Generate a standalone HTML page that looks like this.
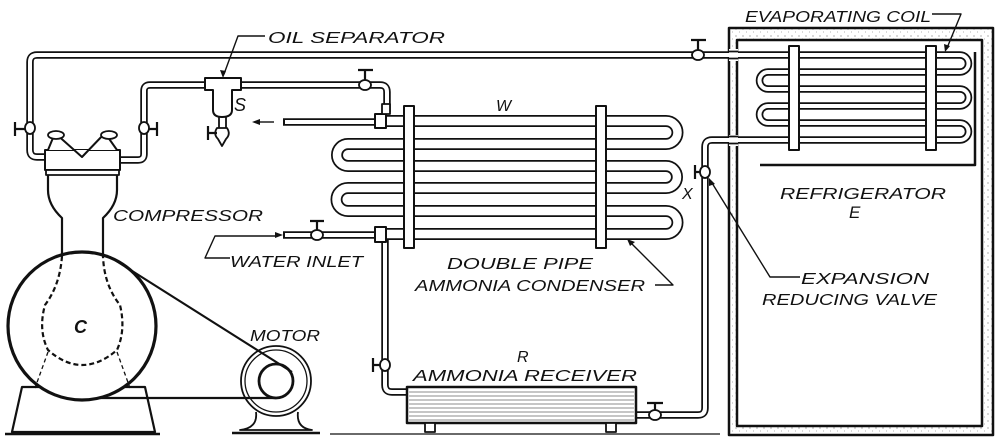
<!DOCTYPE html>
<html><head><style>
html,body{margin:0;padding:0;background:#fff;}
svg{display:block;}
text{font-family:"Liberation Sans",sans-serif;font-style:italic;fill:#111;}
</style></head><body>
<svg width="1000" height="441" viewBox="0 0 1000 441" xmlns="http://www.w3.org/2000/svg">
<defs>
<pattern id="dots" width="7" height="7" patternUnits="userSpaceOnUse">
<rect width="7" height="7" fill="#fff"/>
<circle cx="1" cy="1" r="0.6" fill="#777"/><circle cx="4.5" cy="4" r="0.5" fill="#999"/>
</pattern>
</defs>
<g fill="none" stroke-linejoin="round">

<rect x="729" y="28" width="264" height="407" fill="url(#dots)" stroke="#111" stroke-width="2.5"/>
<rect x="737" y="40" width="245" height="386" fill="#fff" stroke="#111" stroke-width="2.5"/>

<g stroke="#111" stroke-width="7.5">
<path d="M45 157 H37 Q30 157 30 150 V62 Q30 55 37 55 H960 A8.5 8.5 0 0 1 960 72 H768 A8.5 8.5 0 0 0 768 89 H960 A8.5 8.5 0 0 1 960 106 H768 A8.5 8.5 0 0 0 768 123 H960 A8.5 8.5 0 0 1 960 140 H712 Q705 140 705 147 V408 Q705 415 698 415 H637"/>
<path d="M120 160 H138 Q144 160 144 154 V91 Q144 85 150 85 H380 Q387 85 387 92 V112"/>
<path d="M385 240 V385 Q385 392 392 392 H407"/>
<path d="M283 122 H378"/>
<path d="M283 235 H378"/>
</g>
<g stroke="#fff" stroke-width="4">
<path d="M45 157 H37 Q30 157 30 150 V62 Q30 55 37 55 H960 A8.5 8.5 0 0 1 960 72 H768 A8.5 8.5 0 0 0 768 89 H960 A8.5 8.5 0 0 1 960 106 H768 A8.5 8.5 0 0 0 768 123 H960 A8.5 8.5 0 0 1 960 140 H712 Q705 140 705 147 V408 Q705 415 698 415 H637"/>
<path d="M120 160 H138 Q144 160 144 154 V91 Q144 85 150 85 H380 Q387 85 387 92 V112"/>
<path d="M385 240 V385 Q385 392 392 392 H407"/>
<path d="M285 122 H378"/>
<path d="M285 235 H378"/>
</g>

<path d="M378 121 H666 A11.5 11.5 0 0 1 666 144 H348 A11 11 0 0 0 348 166 H666 A11 11 0 0 1 666 188 H348 A11.5 11.5 0 0 0 348 211 H666 A11.5 11.5 0 0 1 666 234 H378" stroke="#111" stroke-width="12"/>
<path d="M378 121 H666 A11.5 11.5 0 0 1 666 144 H348 A11 11 0 0 0 348 166 H666 A11 11 0 0 1 666 188 H348 A11.5 11.5 0 0 0 348 211 H666 A11.5 11.5 0 0 1 666 234 H378" stroke="#fff" stroke-width="8.5"/>
<rect x="375" y="114" width="11" height="14" fill="#fff" stroke="#111" stroke-width="2"/>
<rect x="375" y="227" width="11" height="15" fill="#fff" stroke="#111" stroke-width="2"/>
<rect x="382" y="104" width="8" height="10" fill="#fff" stroke="#111" stroke-width="1.8"/>
<rect x="404" y="106" width="10" height="142" fill="#fff" stroke="#111" stroke-width="2"/>
<rect x="596" y="106" width="10" height="142" fill="#fff" stroke="#111" stroke-width="2"/>
<rect x="789" y="46" width="10" height="104" fill="#fff" stroke="#111" stroke-width="2"/>
<rect x="926" y="46" width="10" height="104" fill="#fff" stroke="#111" stroke-width="2"/>
<path d="M975 52 V165 H760" stroke="#111" stroke-width="2.5"/>
<rect x="729" y="49" width="9" height="12" fill="#fff"/>
<path d="M729 51.5 H738 M729 58.5 H738" stroke="#111" stroke-width="1.8"/>
<rect x="729" y="135" width="9" height="11" fill="#fff"/>
<path d="M729 136.5 H738 M729 143.5 H738" stroke="#111" stroke-width="1.8"/>

<path d="M22 387 H145 L155 432 H12 Z" fill="#fff" stroke="#111" stroke-width="2.2"/>
<path d="M5 434 H160" stroke="#111" stroke-width="2.5"/>
<path d="M48 175 V190 Q48 205 62 218 V254 M117 175 V190 Q117 205 103 218 V254" stroke="#111" stroke-width="2.2"/>
<circle cx="82" cy="326" r="74" fill="#fff" stroke="#111" stroke-width="3.2"/>
<path d="M62 256 Q60 285 45 305 Q38 330 48 350 Q82 380 117 350 Q126 330 120 305 Q104 285 103 256" stroke="#111" stroke-width="2.2" stroke-dasharray="5 3"/>
<path d="M48 352 L35 388 M117 352 L130 388" stroke="#111" stroke-width="1.3" stroke-dasharray="4 3"/>
<rect x="45" y="150" width="75" height="20" fill="#fff" stroke="#111" stroke-width="2"/>
<path d="M48 150 L55 133 L82 157 L105 133 L117 150" fill="#fff" stroke="#111" stroke-width="2"/>
<ellipse cx="56" cy="135" rx="8" ry="4" fill="#fff" stroke="#111" stroke-width="1.8"/>
<ellipse cx="109" cy="135" rx="8" ry="4" fill="#fff" stroke="#111" stroke-width="1.8"/>
<rect x="46" y="170" width="73" height="5" fill="#fff" stroke="#111" stroke-width="1.8"/>
<text x="74" y="333" font-size="18" font-weight="bold" stroke="none" fill="#111">C</text>

<path d="M256 412 Q258 428 240 430 H312 Q296 428 298 412" fill="#fff" stroke="#111" stroke-width="1.8"/>
<path d="M232 433 H320" stroke="#111" stroke-width="2.5"/>
<circle cx="276" cy="381" r="35" fill="#fff" stroke="#111" stroke-width="1.8"/>
<circle cx="276" cy="381" r="31" stroke="#111" stroke-width="1.3"/>
<circle cx="276" cy="381" r="17" stroke="#111" stroke-width="2.8"/>
<path d="M110 257 L292 372 M100 398 H276" stroke="#111" stroke-width="2.2"/>

<path d="M205 78 H241 V90 H232 V110 Q232 117 222 117 Q213 117 213 110 V90 H205 Z" fill="#fff" stroke="#111" stroke-width="2"/>
<path d="M219 117 V128 M226 117 V128" stroke="#111" stroke-width="1.8"/>
<path d="M217 128 Q213 134 218 139 L222 146 L226 139 Q231 134 227 128 Z" fill="#fff" stroke="#111" stroke-width="1.8"/>
<path d="M208 126 V140 M208 133 L217 133" stroke="#111" stroke-width="2.2"/>

<rect x="407" y="387" width="229" height="36" fill="#fff" stroke="#111" stroke-width="2.5"/>
<path d="M409 392 H634 M409 396 H634 M409 400 H634 M409 404 H634 M409 408 H634 M409 412 H634 M409 416 H634 M409 420 H634" stroke="#666" stroke-width="0.7"/>
<rect x="425" y="423" width="10" height="9" fill="#fff" stroke="#111" stroke-width="1.8"/>
<rect x="606" y="423" width="10" height="9" fill="#fff" stroke="#111" stroke-width="1.8"/>
<path d="M330 434 H720" stroke="#111" stroke-width="1.3"/>

<g fill="#fff" stroke="#111" stroke-width="1.8">
<ellipse cx="30" cy="128" rx="5" ry="6"/>
<ellipse cx="144" cy="128" rx="5" ry="6"/>
<ellipse cx="385" cy="365" rx="5" ry="6"/>
<ellipse cx="705" cy="172" rx="5" ry="6"/>
<ellipse cx="698" cy="55" rx="6" ry="5"/>
<ellipse cx="365" cy="85" rx="6" ry="5"/>
<ellipse cx="317" cy="235" rx="6" ry="5"/>
<ellipse cx="655" cy="415" rx="6" ry="5"/>
</g>
<g stroke="#111" stroke-width="2.2">
<path d="M15 122 V136 M15 129 H25"/>
<path d="M157 122 V136 M157 129 H149"/>
<path d="M373 358 V372 M373 365 H380"/>
<path d="M695 165 V179 M695 172 H700"/>
<path d="M691 40 H706 M698 40 V50"/>
<path d="M358 70 H373 M365 70 V80"/>
<path d="M310 221 H324 M317 221 V230"/>
<path d="M647 403 H663 M655 403 V410"/>
</g>

<g stroke="#111" stroke-width="1.4">
<path d="M265 36 H238 L224 74"/>
<path d="M274 122 H258"/>
<path d="M230 258 H205 L215 236 H275"/>
<path d="M655 285 H673 L630 242"/>
<path d="M800 277 H770 L712 183"/>
<path d="M932 14 H961 L947 48"/>
</g>
<g fill="#111">
<path d="M252 122 L260 119 L260 125 Z"/>
<path d="M283 235 L275 232 L275 238 Z"/>
<path d="M223 78 L220 70 L226 71 Z"/>
<path d="M627 239 L635 242 L630 246 Z"/>
<path d="M709 178 L715 184 L709 186 Z"/>
<path d="M945 52 L944 44 L950 46 Z"/>
</g>
</g>

<g font-size="16">
<text x="268" y="43" textLength="177" lengthAdjust="spacingAndGlyphs">OIL SEPARATOR</text>
<text x="234" y="111" font-size="18">S</text>
<text x="113" y="221" textLength="150" lengthAdjust="spacingAndGlyphs">COMPRESSOR</text>
<text x="230" y="267" textLength="133" lengthAdjust="spacingAndGlyphs">WATER INLET</text>
<text x="250" y="341" textLength="70" lengthAdjust="spacingAndGlyphs">MOTOR</text>
<text x="496" y="111" font-size="16">W</text>
<text x="447" y="269" textLength="146" lengthAdjust="spacingAndGlyphs">DOUBLE PIPE</text>
<text x="415" y="291" textLength="230" lengthAdjust="spacingAndGlyphs">AMMONIA CONDENSER</text>
<text x="517" y="362" font-size="16">R</text>
<text x="413" y="381" textLength="224" lengthAdjust="spacingAndGlyphs">AMMONIA RECEIVER</text>
<text x="745" y="22" textLength="186" lengthAdjust="spacingAndGlyphs">EVAPORATING COIL</text>
<text x="682" y="199" font-size="16">X</text>
<text x="780" y="199" textLength="166" lengthAdjust="spacingAndGlyphs">REFRIGERATOR</text>
<text x="849" y="218" font-size="17">E</text>
<text x="801" y="284" textLength="128" lengthAdjust="spacingAndGlyphs">EXPANSION</text>
<text x="762" y="305" textLength="175" lengthAdjust="spacingAndGlyphs">REDUCING VALVE</text>
</g>
</svg>
</body></html>
